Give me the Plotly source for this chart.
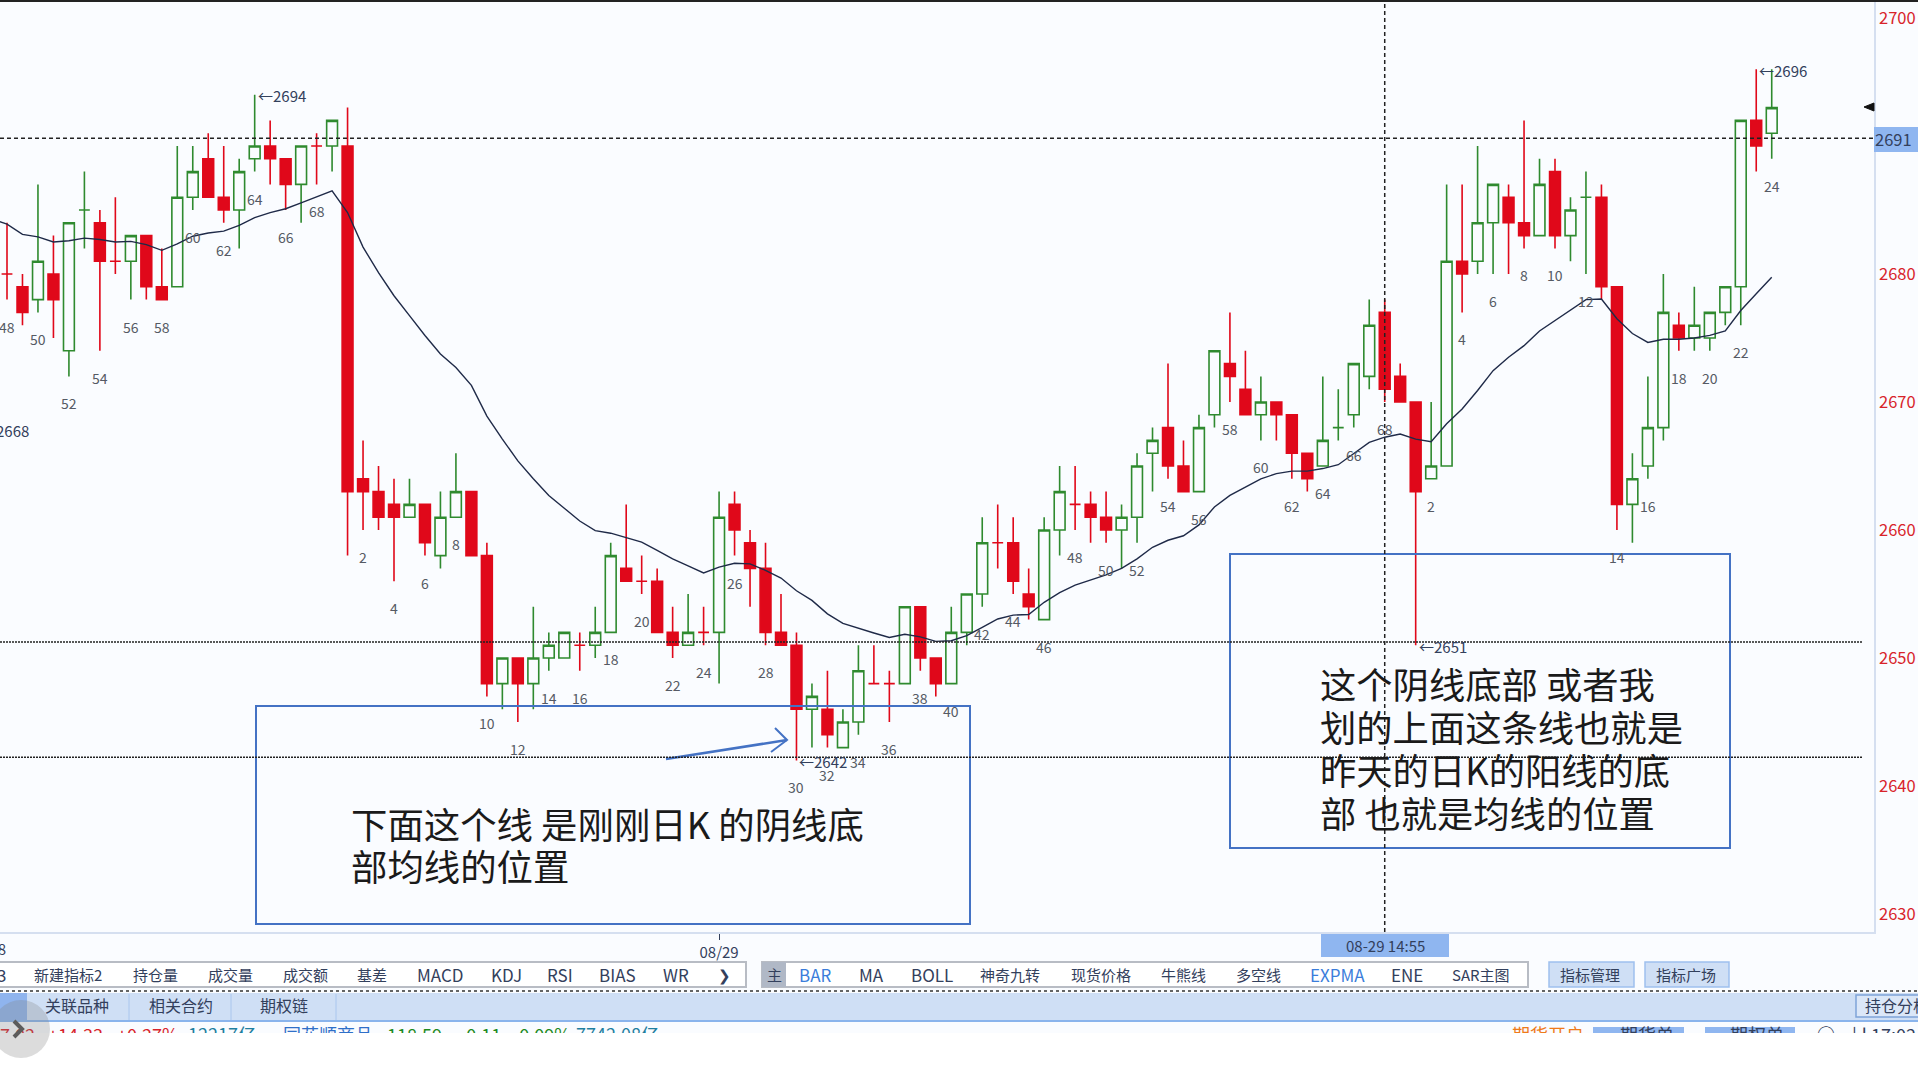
#!/usr/bin/env python3

import plotly.graph_objects as go

W = 1918
H = 1080

# candle data, left to right
opens = [2680, 2679, 2678, 2680, 2674, 2685, 2684, 2681, 2681, 2683, 2679, 2679, 2686, 2689, 2686, 2685, 2689, 2690, 2689, 2687, 2690, 2690,
         2690, 2664, 2663, 2662, 2661, 2662, 2658, 2661, 2663, 2658, 2648, 2650, 2648, 2650, 2650, 2651, 2651, 2652, 2657, 2656,
         2656, 2652, 2651, 2652, 2652, 2662, 2659, 2657, 2652, 2651, 2646, 2646, 2643, 2645, 2648, 2648, 2648, 2654, 2650, 2648,
         2652, 2655, 2659, 2659, 2655, 2653, 2660, 2662, 2662, 2661, 2660, 2661, 2666, 2668, 2665, 2663, 2669, 2673, 2671, 2669,
         2670, 2669, 2666, 2665, 2668, 2669, 2672, 2677, 2672,
         2670, 2664, 2665, 2681, 2681, 2684, 2686, 2684, 2683, 2688, 2683, 2686, 2686, 2679, 2662, 2665, 2668, 2676, 2675, 2675,
         2677, 2679, 2692, 2691]
closes = [2680, 2677, 2681, 2678, 2684, 2685, 2681, 2681, 2683, 2679, 2678, 2686, 2688, 2686, 2685, 2688, 2690, 2689, 2687, 2690, 2690, 2692,
          2663, 2663, 2661, 2661, 2662, 2659, 2661, 2663, 2658, 2648, 2650, 2648, 2650, 2651, 2652, 2651, 2652, 2658, 2656, 2656,
          2652, 2651, 2652, 2652, 2661, 2660, 2657, 2652, 2651, 2646, 2647, 2644, 2645, 2649, 2648, 2648, 2654, 2650, 2648, 2652,
          2655, 2659, 2659, 2656, 2654, 2660, 2663, 2662, 2661, 2660, 2661, 2665, 2667, 2665, 2663, 2668, 2674, 2672, 2669, 2670,
          2669, 2666, 2664, 2667, 2668, 2673, 2676, 2671, 2670,
          2663, 2665, 2681, 2680, 2684, 2687, 2684, 2683, 2687, 2683, 2685, 2686, 2679, 2662, 2664, 2668, 2677, 2675, 2676, 2677,
          2679, 2692, 2690, 2693]
highs = [2684, 2680, 2687, 2683, 2684, 2688, 2685, 2686, 2683, 2683, 2682, 2690, 2690, 2691, 2690, 2689, 2694, 2692, 2689, 2690, 2691, 2692,
         2693, 2667, 2665, 2664, 2664, 2662, 2663, 2666, 2663, 2659, 2650, 2650, 2654, 2652, 2652, 2652, 2654, 2659, 2662, 2658,
         2657, 2654, 2655, 2654, 2663, 2663, 2660, 2659, 2655, 2652, 2648, 2649, 2646, 2651, 2651, 2649, 2654, 2654, 2650, 2654,
         2655, 2661, 2662, 2661, 2657, 2661, 2665, 2665, 2663, 2663, 2662, 2666, 2668, 2673, 2667, 2669, 2674, 2677, 2674, 2672,
         2670, 2669, 2666, 2672, 2671, 2673, 2678, 2678, 2673,
         2670, 2670, 2687, 2687, 2690, 2687, 2687, 2692, 2689, 2689, 2686, 2688, 2687, 2679, 2666, 2672, 2680, 2677, 2679, 2677,
         2679, 2692, 2696, 2696]
lows = [2678, 2676, 2677, 2675, 2672, 2682, 2674, 2680, 2678, 2678, 2678, 2679, 2685, 2686, 2684, 2682, 2688, 2687, 2685, 2684, 2687, 2688,
        2658, 2660, 2660, 2656, 2661, 2658, 2657, 2661, 2658, 2647, 2646, 2645, 2646, 2649, 2650, 2649, 2650, 2652, 2656, 2655,
        2652, 2650, 2651, 2651, 2648, 2658, 2654, 2651, 2651, 2642, 2643, 2643, 2643, 2644, 2648, 2645, 2648, 2649, 2647, 2648,
        2651, 2654, 2657, 2655, 2653, 2653, 2658, 2660, 2659, 2659, 2657, 2659, 2663, 2664, 2663, 2663, 2668, 2670, 2669, 2667,
        2667, 2664, 2663, 2665, 2667, 2668, 2671, 2670, 2670,
        2651, 2664, 2665, 2677, 2680, 2680, 2680, 2682, 2683, 2682, 2681, 2680, 2678, 2660, 2659, 2664, 2667, 2674, 2674, 2674,
        2676, 2676, 2688, 2689]
# crosses (open == close) drawn green, all the others are red
doji_green = [5, 86, 102]

# small numbers printed under the candles
seq_no = [48, 49, 50, 51, 52, 53, 54, 55, 56, 57, 58, 59, 60, 61, 62, 63, 64, 65, 66, 67, 68, 69,
          1, 2, 3, 4, 5, 6, 7, 8, 9, 10, 11, 12, 13, 14, 15, 16, 17, 18, 19, 20, 21, 22, 23, 24, 25, 26, 27, 28, 29, 30,
          31, 32, 33, 34, 35, 36, 37, 38, 39, 40, 41, 42, 43, 44, 45, 46, 47, 48, 49, 50, 51, 52, 53, 54, 55, 56, 57, 58, 59, 60,
          61, 62, 63, 64, 65, 66, 67, 68, 69,
          1, 2, 3, 4, 5, 6, 7, 8, 9, 10, 11, 12, 13, 14, 15, 16, 17, 18, 19, 20, 21, 22, 23, 24]

# the line comes in from one bar left of the window
ema_before = 2684.3
ema = [2683.9, 2683.1, 2682.9, 2682.5, 2682.6, 2682.8, 2682.7, 2682.5, 2682.55, 2682.3, 2681.85, 2682.35, 2682.95, 2683.2, 2683.35, 2683.8,
       2684.4, 2684.8, 2685.1, 2685.55, 2686.0, 2686.5,
       2684.8, 2682.1, 2680.1, 2678.3, 2676.75, 2675.2, 2673.75, 2672.7, 2671.3, 2668.9,
       2667.1, 2665.4, 2664.0, 2662.7, 2661.7, 2660.7, 2659.95, 2659.75, 2659.4, 2659.05,
       2658.4, 2657.75, 2657.2, 2656.65, 2657.1, 2657.4, 2657.35, 2656.85, 2656.25, 2655.25,
       2654.5, 2653.45, 2652.7, 2652.3, 2651.95, 2651.6, 2651.85, 2651.65, 2651.3, 2651.35,
       2651.75, 2652.4, 2653.05, 2653.35, 2653.4, 2654.35, 2655.1, 2655.7, 2656.1, 2656.5,
       2657.0, 2657.75, 2658.65, 2659.2, 2659.55, 2660.4, 2661.8, 2662.7, 2663.35, 2664.0,
       2664.4, 2664.6, 2664.6, 2664.8, 2665.1, 2665.95, 2666.85, 2667.25, 2667.5,
       2667.1, 2666.9, 2668.3, 2669.45, 2670.9, 2672.45, 2673.5, 2674.4, 2675.55, 2676.35,
       2677.2, 2678.0, 2678.05, 2676.5, 2675.35, 2674.65, 2674.9, 2674.9, 2675.0, 2675.2,
       2675.55, 2677.15, 2678.45, 2679.75]

# high / low marks
mark_idx = [16, 51, 91, 113]
mark_val = [2694, 2642, 2651, 2696]
mark_text = ["←2694", "←2642", "←2651", "←2696"]

y_ticks = [2630, 2640, 2650, 2660, 2670, 2680, 2690, 2700]
y_ticks_shown = ["2630", "2640", "2650", "2660", "2670", "2680", "", "2700"]
date_tick_idx = [46]
date_tick_text = ["08/29"]

price_cross = 2690.6
time_cross_idx = 89
level_lines = [2651.25, 2642.25]

text_left = ["下面这个线 是刚刚日K 的阴线底", "部均线的位置"]
text_right = ["这个阴线底部 或者我", "划的上面这条线也就是", "昨天的日K的阳线的底", "部 也就是均线的位置"]

tabs_a = ["3", "新建指标2", "持仓量", "成交量", "成交额", "基差", "MACD", "KDJ", "RSI", "BIAS", "WR"]
tabs_a_x = [2, 69, 156, 231, 306, 373, 441, 507, 561, 618, 677]
tabs_b = ["主", "BAR", "MA", "BOLL", "神奇九转", "现货价格", "牛熊线", "多空线", "EXPMA", "ENE", "SAR主图"]
tabs_b_x = [775, 816, 872, 933, 1011, 1102, 1184, 1259, 1338, 1408, 1482]
tabs_c = ["关联品种", "相关合约", "期权链"]
tabs_c_x = [77, 181, 284]

quote_text = ["7.02", "+14.33", "+0.27%", "12217亿", "同花顺商品", "118.59", "-0.11", "-0.09%", "7742.08亿", "期货开户", "期货单", "期权单", "○", "|ıl 17:02"]
quote_x = [0, 48, 117, 188, 283, 387, 460, 513, 576, 1512, 1620, 1730, 1817, 1852]
quote_col = ["#d8232a", "#d8232a", "#d8232a", "#1f7fa0", "#2f6fc8", "#1e8a1e", "#1e8a1e", "#1e8a1e", "#1f7fa0", "#ef7a1a", "#33405c", "#33405c", "#33405c", "#33405c"]

BG = "#fafcff"
RED = "#e0081a"
GREEN = "#2f8a2f"
BLUE = "#4472c4"
FONT = "Noto Sans CJK SC"


def px(x):
    return x / W


def py(y):
    return 1 - y / H


def box(x0, y0, x1, y1, fill=None, line=None, width=1, layer="below"):
    return dict(type="rect", xref="paper", yref="paper", x0=px(x0), x1=px(x1), y0=py(y0), y1=py(y1),
                fillcolor=fill if fill else "rgba(0,0,0,0)",
                line=dict(color=line if line else "rgba(0,0,0,0)", width=width if line else 0), layer=layer)


def path(points, color, width=2, fill=None, closed=False):
    d = ""
    for i, (x, y) in enumerate(points):
        d += ("M" if i == 0 else " L") + " %f %f" % (px(x), py(y))
    if closed:
        d += " Z"
    return dict(type="path", xref="paper", yref="paper", path=d, line=dict(color=color, width=width),
                fillcolor=fill if fill else "rgba(0,0,0,0)", layer="above")


def note(x, y, text, size=15, color="#33405c", anchor="center"):
    return dict(xref="paper", yref="paper", x=px(x), y=py(y), text=text, showarrow=False, xanchor=anchor, yanchor="middle",
                font=dict(family=FONT, size=size, color=color))


idx = list(range(len(opens)))
up = [i for i in idx if closes[i] > opens[i] or i in doji_green]
down = [i for i in idx if i not in up]

fig = go.Figure()
fig.add_trace(go.Candlestick(
    x=up, open=[opens[i] for i in up], high=[highs[i] for i in up], low=[lows[i] for i in up], close=[closes[i] for i in up],
    increasing=dict(line=dict(color=GREEN, width=1.6), fillcolor=BG),
    decreasing=dict(line=dict(color=GREEN, width=1.6), fillcolor=BG),
    whiskerwidth=0, showlegend=False, hoverinfo="skip"))
fig.add_trace(go.Candlestick(
    x=down, open=[opens[i] for i in down], high=[highs[i] for i in down], low=[lows[i] for i in down], close=[closes[i] for i in down],
    increasing=dict(line=dict(color=RED, width=1.6), fillcolor=RED),
    decreasing=dict(line=dict(color=RED, width=1.6), fillcolor=RED),
    whiskerwidth=0, showlegend=False, hoverinfo="skip"))
fig.add_trace(go.Scatter(x=[-1] + idx, y=[ema_before] + ema, mode="lines", line=dict(color="#1f2a48", width=1.4),
                         showlegend=False, hoverinfo="skip"))

# bottom quote row is cut off by the edge of the window, so it lives in its own clipped axes
fig.add_trace(go.Scatter(x=quote_x, y=[1037] * len(quote_x), text=quote_text, mode="text", textposition="middle right",
                         textfont=dict(family=FONT, size=18, color=quote_col), xaxis="x2", yaxis="y2",
                         cliponaxis=True, showlegend=False, hoverinfo="skip"))

shapes = [
    box(0, 0, W, 1033, fill=BG),
    box(0, 0, W, 2, fill="#222222", layer="above"),
    # tab rows
    box(-2, 962, 746, 987, fill="#ffffff", line="#b8bcc4", width=2),
    box(762, 962, 1528, 987, fill="#ffffff", line="#b8bcc4", width=2),
    box(762, 962, 786, 987, fill="#b0b8c6"),
    box(1549, 962, 1634, 987, fill="#cfdff5", line="#9fc0ee", width=1.5),
    box(1645, 962, 1729, 987, fill="#cfdff5", line="#9fc0ee", width=1.5),
    dict(type="line", xref="paper", yref="paper", x0=0, x1=1, y0=py(991), y1=py(991), line=dict(color="#333333", width=1.5, dash="dot"), layer="below"),
    box(0, 993, W, 1020, fill="#cfdff5"),
    box(0, 1020, W, 1022, fill="#8ab4ec"),
    box(0, 993, 27, 1020, fill="#8fb4ee"),
    box(1856, 995, W + 5, 1017, fill="#dbe7f8", line="#7fa4d8", width=1.5),
    # current time label
    box(1321, 932, 1449, 957, fill="#8fb6f0"),
    # cross hair price label
    box(1874, 127, W, 152, fill="#8fb6f0", layer="above"),
    # buttons cut by the window
    box(1593, 1027, 1684, 1033, fill="#8fb6f0"),
    box(1705, 1027, 1795, 1033, fill="#8fb6f0"),
    # annotation boxes
    box(256, 706, 970, 924, line=BLUE, width=2, layer="above"),
    box(1230, 554, 1730, 848, line=BLUE, width=2, layer="above"),
    # drawn arrow
    path([(666, 759), (787, 740)], BLUE, width=2.5),
    path([(775, 728), (787, 740), (771, 752)], BLUE, width=2),
    # last price pointer
    path([(1864, 107), (1874, 103), (1874, 111)], "#111111", width=1, fill="#111111", closed=True),
    # round scroll button
    dict(type="circle", xref="paper", yref="paper", x0=px(-8), x1=px(50), y0=py(1058), y1=py(1000),
         fillcolor="rgba(130,130,130,0.28)", line=dict(width=0), layer="above"),
    path([(14, 1021), (22, 1029), (14, 1037)], "#5c5c5c", width=4),
    # tab dividers
    dict(type="line", xref="paper", yref="paper", x0=px(129), x1=px(129), y0=py(994), y1=py(1020), line=dict(color="#a9c6ee", width=1), layer="below"),
    dict(type="line", xref="paper", yref="paper", x0=px(231), x1=px(231), y0=py(994), y1=py(1020), line=dict(color="#a9c6ee", width=1), layer="below"),
    dict(type="line", xref="paper", yref="paper", x0=px(336), x1=px(336), y0=py(994), y1=py(1020), line=dict(color="#a9c6ee", width=1), layer="below"),
    # cross hair
    dict(type="line", xref="paper", yref="y", x0=0, x1=px(1874), y0=price_cross, y1=price_cross,
         line=dict(color="#222222", width=1.5, dash="4px,3px"), layer="above"),
    dict(type="line", xref="x", yref="paper", x0=time_cross_idx, x1=time_cross_idx, y0=py(932), y1=1,
         line=dict(color="#222222", width=1.5, dash="4px,3px"), layer="above"),
]
for lv in level_lines:
    shapes.append(dict(type="line", xref="paper", yref="y", x0=0, x1=px(1862), y0=lv, y1=lv,
                       line=dict(color="#222222", width=1.4, dash="2px,1px"), layer="above"))

annotations = []
for i, n in zip(idx, seq_no):
    if n % 2 == 0:
        annotations.append(dict(x=i, y=lows[i], xref="x", yref="y", text=str(n), showarrow=False, yshift=-27,
                                font=dict(family=FONT, size=14, color="#555a64")))
for i, v, t in zip(mark_idx, mark_val, mark_text):
    annotations.append(dict(x=i, y=v, xref="x", yref="y", text=t, showarrow=False, xanchor="left", yshift=-1, xshift=1,
                            font=dict(family=FONT, size=15, color="#33405c")))
annotations.append(note(-21, 430, "←2668", 15, "#33405c", "left"))
annotations.append(note(8, 948, "08/28", 15, "#33405c", "right"))
annotations.append(note(1385, 945, "08-29 14:55", 15, "#33405c"))
annotations.append(note(1873, 139, "2691", 16.5, "#33405c", "left"))

for k, t in enumerate(text_left):
    annotations.append(note(349, 823 + k * 42, t, 36.4, "#1a1a1a", "left"))
for k, t in enumerate(text_right):
    annotations.append(note(1318, 683 + k * 43, t, 36.3, "#1a1a1a", "left"))

for t, x in zip(tabs_a, tabs_a_x):
    annotations.append(note(x - 1, 974, t, 17 if t.isascii() else 15, "#33405c"))
annotations.append(note(724, 974, "❯", 15, "#33405c"))
for t, x in zip(tabs_b, tabs_b_x):
    annotations.append(note(x - 1, 974, t, 17 if t.isascii() else 15, "#3b7ddb" if t in ("BAR", "EXPMA") else "#33405c"))
annotations.append(note(1590, 974, "指标管理", 15, "#33405c"))
annotations.append(note(1686, 974, "指标广场", 15, "#33405c"))
for t, x in zip(tabs_c, tabs_c_x):
    annotations.append(note(x, 1005, t, 16, "#33405c"))
annotations.append(note(1863, 1005, "持仓分析", 16, "#33405c", "left"))

fig.update_layout(
    width=W,
    height=H,
    margin=dict(l=0, r=0, t=0, b=0),
    paper_bgcolor="#ffffff",
    plot_bgcolor="rgba(0,0,0,0)",
    font=dict(family=FONT),
    showlegend=False,
    hovermode=False,
    boxmode="overlay",
    boxgap=0.3,
    boxgroupgap=0,
    shapes=shapes,
    annotations=annotations,
    xaxis=dict(domain=[0, px(1874)], range=[-7 / 15.48, (1874 - 7) / 15.48], rangeslider=dict(visible=False),
               showgrid=False, zeroline=False, showline=True, linecolor="#d5dff0", linewidth=1.5,
               tickmode="array", tickvals=date_tick_idx, ticktext=date_tick_text, ticks="outside", ticklen=6, tickcolor="#33405c",
               tickfont=dict(family=FONT, size=15, color="#33405c"), anchor="y"),
    yaxis=dict(domain=[py(932), 1], range=[2680 - 658 / 12.8, 2680 + 274 / 12.8], side="right",
               showgrid=False, zeroline=False, showline=True, linecolor="#d5dff0", linewidth=1.5,
               tickmode="array", tickvals=y_ticks, ticktext=y_ticks_shown, ticks="",
               tickfont=dict(family=FONT, size=16.5, color="#d8232a"), anchor="x"),
    xaxis2=dict(domain=[0, 1], range=[0, W], visible=False, anchor="y2"),
    yaxis2=dict(domain=[py(1033), py(1015)], range=[1033, 1015], visible=False, anchor="x2"),
)

fig.write_html("out.html", config=dict(displayModeBar=False), post_script="document.body.style.margin='0';")
